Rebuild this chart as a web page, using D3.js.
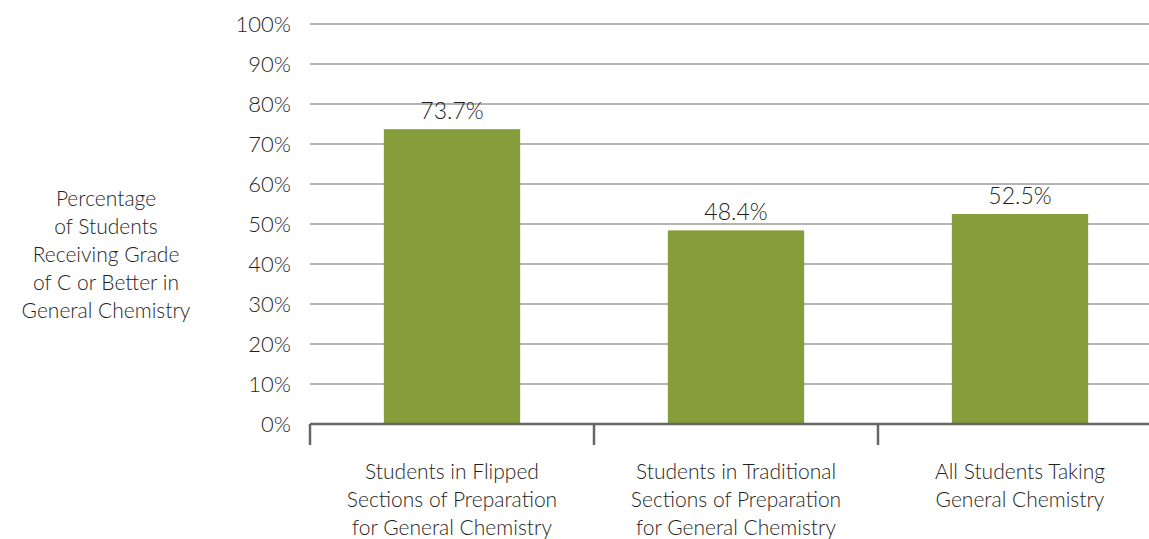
<!DOCTYPE html>
<html>
<head>
<meta charset="utf-8">
<script src="https://cdn.jsdelivr.net/npm/d3@7"></script>
<style>
  body { margin: 0; background: #fff; }
  text { font-family: Lato, "Open Sans", sans-serif; font-weight: 300; fill: #1f1f1f; }
</style>
</head>
<body>
<div id="chart"></div>
<script>
// data
const categories = [
  ["Students in Flipped", "Sections of Preparation", "for General Chemistry"],
  ["Students in Traditional", "Sections of Preparation", "for General Chemistry"],
  ["All Students Taking", "General Chemistry"]
];
const values = [0.737, 0.484, 0.525];
const valueLabels = ["73.7%", "48.4%", "52.5%"];
const yTicks = [0, 0.1, 0.2, 0.3, 0.4, 0.5, 0.6, 0.7, 0.8, 0.9, 1.0];
const yTitle = ["Percentage", "of Students", "Receiving Grade", "of C or Better in", "General Chemistry"];

const width = 1149, height = 539;
const margin = {top: 24, right: -13, bottom: 115, left: 310};

const svg = d3.select("#chart").append("svg")
  .attr("width", width)
  .attr("height", height);

const x = d3.scaleBand()
  .domain(d3.range(categories.length))
  .range([margin.left, width - margin.right])
  .paddingInner(0.52)
  .paddingOuter(0.26);

const y = d3.scaleLinear()
  .domain([0, 1])
  .range([height - margin.bottom, margin.top]);

// gridlines
svg.append("g")
  .selectAll("line")
  .data(yTicks.filter(d => d > 0))
  .join("line")
  .attr("x1", margin.left)
  .attr("x2", width - margin.right)
  .attr("y1", d => y(d))
  .attr("y2", d => y(d))
  .attr("stroke", "#b3b3b3")
  .attr("stroke-width", 2);

// y tick labels
svg.append("g")
  .selectAll("text")
  .data(yTicks)
  .join("text")
  .attr("x", 291)
  .attr("y", d => y(d) + 8)
  .attr("text-anchor", "end")
  .style("font-size", "22px")
  .text(d => d3.format(".0%")(d));

// bars
svg.append("g")
  .selectAll("rect")
  .data(values)
  .join("rect")
  .attr("x", (d, i) => x(i))
  .attr("width", x.bandwidth())
  .attr("y", d => y(d))
  .attr("height", d => y(0) - y(d))
  .attr("fill", "#869d3c");

// value labels
svg.append("g")
  .selectAll("text")
  .data(values)
  .join("text")
  .attr("x", (d, i) => x(i) + x.bandwidth() / 2)
  .attr("y", d => y(d) - 10)
  .attr("text-anchor", "middle")
  .style("font-size", "23px")
  .text((d, i) => valueLabels[i]);

// x axis line + ticks at band edges
const step = x.step();
const edges = d3.range(categories.length + 1).map(i => margin.left + i * step);
svg.append("line")
  .attr("x1", margin.left)
  .attr("x2", width)
  .attr("y1", y(0))
  .attr("y2", y(0))
  .attr("stroke", "#666")
  .attr("stroke-width", 2.5);
svg.append("g")
  .selectAll("line")
  .data(edges)
  .join("line")
  .attr("x1", d => d)
  .attr("x2", d => d)
  .attr("y1", y(0))
  .attr("y2", y(0) + 21)
  .attr("stroke", "#666")
  .attr("stroke-width", 2.5);

// category labels
const catG = svg.append("g")
  .selectAll("text")
  .data(categories)
  .join("text")
  .attr("text-anchor", "middle")
  .style("font-size", "21px");
catG.selectAll("tspan")
  .data((d, i) => d.map(line => ({line, i})))
  .join("tspan")
  .attr("x", d => x(d.i) + x.bandwidth() / 2)
  .attr("y", (d, j) => 479 + j * 28)
  .text(d => d.line);

// y title
svg.append("text")
  .attr("text-anchor", "middle")
  .style("font-size", "21px")
  .selectAll("tspan")
  .data(yTitle)
  .join("tspan")
  .attr("x", 106)
  .attr("y", (d, j) => 206 + j * 28)
  .text(d => d);
</script>
</body>
</html>
